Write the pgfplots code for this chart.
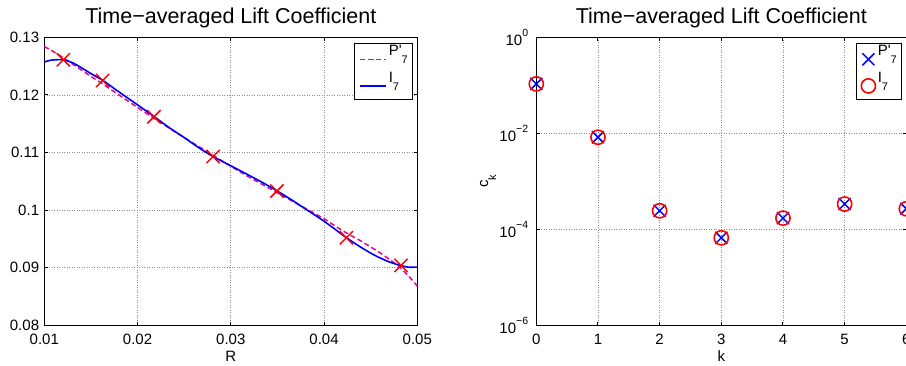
\documentclass[border=0pt]{standalone}
\usepackage{pgfplots}
\pgfplotsset{compat=1.18}
\usepackage{fontspec}
\setmainfont{Liberation Sans}
\newcommand{\sub}[1]{\raisebox{-8pt}{\fontsize{11}{12}\selectfont #1}}
\newcommand{\supe}[1]{\raisebox{9.5pt}{\fontsize{10.5}{12}\selectfont #1}}
\definecolor{gridgray}{gray}{0.55}
\pgfplotsset{
 mylegimg/.style={legend image code/.code={\draw[mark repeat=2,mark phase=2,##1] plot coordinates {(0pt,-1.5pt) (12.85pt,-1.5pt) (25.7pt,-1.5pt)};}},
 mystyle/.style={
  scale only axis,
  anchor=south west,
  height=288pt,
  clip=false,
  axis line style={line width=1.2pt},
  tick style={black, line width=1pt},
  major tick length=3.7pt,
  grid=major,
  major grid style={gridgray, line width=0.8pt, dash pattern=on 0.8pt off 1.7pt},
  tick label style={font=\fontsize{15}{18}\selectfont},
  xticklabel style={anchor=base, yshift=-19pt, inner sep=0pt},
  yticklabel style={anchor=east, xshift=-5pt, inner sep=0pt},
  label style={font=\fontsize{15}{18}\selectfont},
  title style={font=\fontsize{21.5}{25}\selectfont, at={(axis description cs:0.5,1)}, anchor=base, yshift=8pt},
  xlabel style={at={(axis description cs:0.5,0)}, anchor=base, yshift=-36pt},
  legend style={at={(axis description cs:1,1)}, anchor=north east, xshift=-4pt, yshift=-5.3pt, draw=black, line width=1pt, font=\fontsize{15}{18}\selectfont, inner xsep=5pt, inner ysep=1.4pt, row sep=0pt, nodes={inner sep=0pt, text height=11pt, text depth=15.6pt}, cells={anchor=base west}, /tikz/every odd column/.append style={column sep=2.3pt}},
  legend cell align=left,
  mylegimg,
 }
}
\begin{document}
\begin{tikzpicture}
\begin{axis}[mystyle, at={(44.3pt,39.7pt)}, width=373pt,
  xmin=0.01, xmax=0.05, ymin=0.08, ymax=0.13,
  xtick={0.01,0.02,0.03,0.04,0.05}, xticklabels={0.01,0.02,0.03,0.04,0.05},
  ytick={0.08,0.09,0.1,0.11,0.12,0.13}, yticklabels={0.08,0.09,0.1,0.11,0.12,0.13},
  scaled ticks=false,
  title={Time−averaged Lift Coefficient}, xlabel={R}]
\addplot[color=magenta, line width=1.5pt, dash pattern=on 5pt off 3pt] coordinates {
(0.0100,0.1284) (0.0110,0.1275) (0.0120,0.1265) (0.0130,0.1254) (0.0140,0.1243)
(0.0150,0.1232) (0.0160,0.1222) (0.0170,0.1211) (0.0180,0.1200) (0.0190,0.1189)
(0.0200,0.1178) (0.0220,0.1157) (0.0240,0.1136) (0.0260,0.1116) (0.0280,0.1096)
(0.0300,0.1076) (0.0320,0.1057) (0.0340,0.1039) (0.0360,0.1021) (0.0380,0.1003)
(0.0400,0.0985) (0.0420,0.0964) (0.0440,0.0946) (0.0460,0.0926) (0.0480,0.0903)
(0.0490,0.0887) (0.0500,0.0868)};
\addlegendentry{P\textquotesingle\sub{7}}
\addplot[color=blue, line width=1.6pt, smooth] coordinates {
(0.0100,0.1257) (0.0106,0.1260) (0.0113,0.1261) (0.0120,0.1261) (0.0130,0.1256)
(0.0140,0.1247) (0.0150,0.1237) (0.0163,0.1225) (0.0175,0.1211) (0.0190,0.1194)
(0.0205,0.1177) (0.0218,0.1162) (0.0235,0.1142) (0.0250,0.1126) (0.0265,0.1109)
(0.0281,0.1093) (0.0300,0.1077) (0.0320,0.1060) (0.0335,0.1047) (0.0350,0.1033)
(0.0365,0.1018) (0.0380,0.1002) (0.0397,0.0984) (0.0410,0.0969) (0.0424,0.0952)
(0.0440,0.0935) (0.0455,0.0921) (0.0470,0.0910) (0.0482,0.0904) (0.0490,0.0901)
(0.0500,0.0901)};
\addlegendentry{I\sub{7}}
\addplot[only marks, mark=x, mark size=9.4pt, mark options={red, line width=1.5pt}, forget plot] coordinates {
(0.01204,0.1261) (0.01626,0.1225) (0.02176,0.1162) (0.02810,0.1093)
(0.03495,0.1033) (0.04240,0.0952) (0.04825,0.0904)};
\end{axis}
\begin{axis}[mystyle, at={(536.3pt,39.7pt)}, width=370pt,
  ymode=log, xmin=0, xmax=6, ymin=1e-6, ymax=1,
  xtick={0,1,2,3,4,5,6}, xticklabels={0,1,2,3,4,5,6},
  ytick={1e-6,1e-4,1e-2,1}, yticklabels={10\supe{−6},10\supe{−4},10\supe{−2},10\supe{0}},
  yticklabel style={xshift=-3pt},
  yminorticks=false,
  title={Time−averaged Lift Coefficient}, xlabel={k}, ylabel={c\sub{k}},
  ylabel style={at={(axis description cs:-0.1305,0.5)}, anchor=center}]
\addplot[only marks, mark=x, mark size=8.5pt, mark options={blue, line width=1.5pt}, mylegimg] coordinates {
(0,0.107) (1,0.00828) (2,2.43e-4) (3,6.65e-5) (4,1.71e-4) (5,3.36e-4) (6,2.68e-4)};
\addlegendentry{P\textquotesingle\sub{7}}
\addplot[only marks, mark=o, mark size=7.1pt, mark options={red, line width=1.6pt}, mylegimg] coordinates {
(0,0.107) (1,0.00828) (2,2.43e-4) (3,6.65e-5) (4,1.71e-4) (5,3.36e-4) (6,2.68e-4)};
\addlegendentry{I\sub{7}}
\end{axis}
\pgfresetboundingbox
\path[use as bounding box] (0pt,0pt) rectangle (906pt,365pt);
\end{tikzpicture}
\end{document}
